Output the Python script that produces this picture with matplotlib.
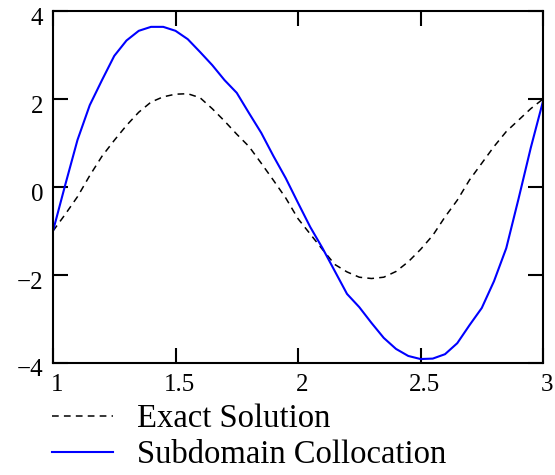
import matplotlib as mpl
mpl.use('Agg')
import matplotlib.pyplot as plt
import matplotlib.transforms as mtransforms

# x values (step 0.05)
x = [1.00, 1.05, 1.10, 1.15, 1.20, 1.25, 1.30, 1.35, 1.40, 1.45,
     1.50, 1.55, 1.60, 1.65, 1.70, 1.75, 1.80, 1.85, 1.90, 1.95,
     2.00, 2.05, 2.10, 2.15, 2.20, 2.25, 2.30, 2.35, 2.40, 2.45,
     2.50, 2.55, 2.60, 2.65, 2.70, 2.75, 2.80, 2.85, 2.90, 2.95, 3.00]

exact = [-1.00, -0.62, -0.22, 0.26, 0.70, 1.06, 1.40, 1.70, 1.93, 2.05,
         2.11, 2.12, 2.03, 1.78, 1.50, 1.20, 0.92, 0.54, 0.15, -0.25,
         -0.72, -1.07, -1.42, -1.76, -1.93, -2.05, -2.08, -2.05, -1.92, -1.70,
         -1.42, -1.10, -0.68, -0.30, 0.16, 0.54, 0.92, 1.26, 1.52, 1.78, 2.00]

subdomain = [-1.00, 0.05, 1.07, 1.86, 2.43, 2.98, 3.33, 3.55, 3.64, 3.64,
             3.55, 3.36, 3.07, 2.77, 2.43, 2.14, 1.68, 1.23, 0.70, 0.20,
             -0.36, -0.91, -1.39, -1.91, -2.43, -2.73, -3.09, -3.43, -3.68, -3.84,
             -3.91, -3.90, -3.80, -3.55, -3.14, -2.75, -2.14, -1.39, -0.27, 0.89, 1.95]

xticks = [1, 1.5, 2, 2.5, 3]
xtick_labels = ['1', '1.5', '2', '2.5', '3']
yticks = [-4, -2, 0, 2, 4]
ytick_labels = ['\u22124', '\u22122', '0', '2', '4']

plt.rcParams['font.family'] = ['Liberation Serif', 'DejaVu Serif']

fig = plt.figure(figsize=(5.55, 4.75), dpi=100)
ax = fig.add_axes([0.0955, 0.2358, 0.8829, 0.741])

ax.plot(x, exact, color='black', lw=1.1, linestyle=(0, (4.4, 3.4)), label='Exact Solution')
ax.plot(x, subdomain, color='#0000ff', lw=1.5, label='Subdomain Collocation')

ax.set_xlim(1, 3)
ax.set_ylim(-4, 4)
ax.set_xticks(xticks)
ax.set_xticklabels(xtick_labels)
ax.set_yticks(yticks)
ax.set_yticklabels(ytick_labels)

for s in ax.spines.values():
    s.set_linewidth(1.5)
ax.tick_params(direction='in', length=11, width=1.5, labelsize=18,
               top=True, right=True)
ax.tick_params(axis='x', pad=8)
ax.tick_params(axis='y', pad=7)

# labels sit a bit off their ticks in the original
dx = mtransforms.ScaledTranslation(4 / 100, 0, fig.dpi_scale_trans)
dy = mtransforms.ScaledTranslation(0, -5 / 100, fig.dpi_scale_trans)
for lab in ax.get_xticklabels():
    lab.set_transform(lab.get_transform() + dx)
for lab in ax.get_yticklabels():
    lab.set_transform(lab.get_transform() + dy)

fig.legend(loc='center left', bbox_to_anchor=(0.094, 0.080), frameon=False,
           fontsize=23.5, handlelength=1.87, handletextpad=0.74,
           labelspacing=0.18, borderpad=0, borderaxespad=0)

fig.savefig('out.png', dpi=100)
plt.close(fig)
